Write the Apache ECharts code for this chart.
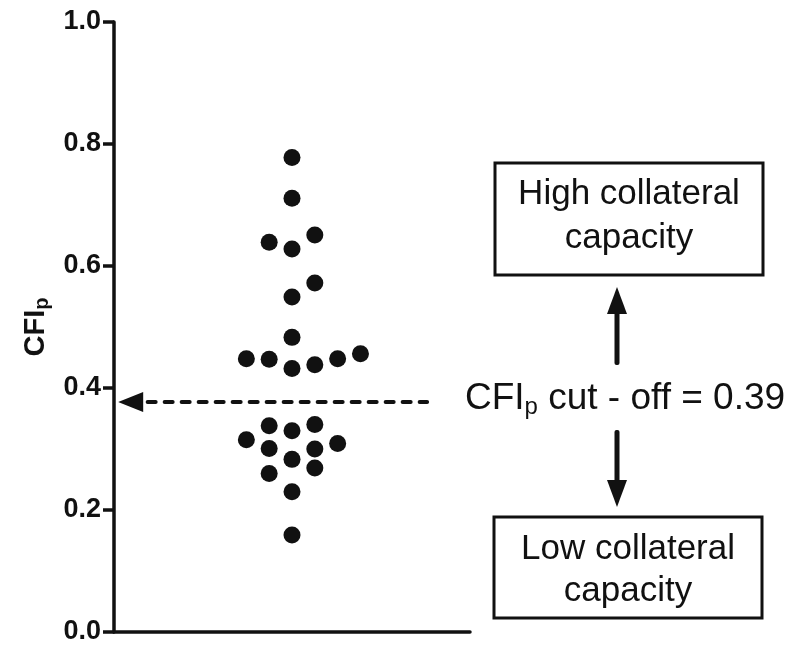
<!DOCTYPE html>
<html>
<head>
<meta charset="utf-8">
<script src="https://cdn.jsdelivr.net/npm/echarts@6/dist/echarts.min.js"></script>
<style>
html,body{margin:0;padding:0;background:#fff;}
#chart{width:790px;height:647px;}
</style>
</head>
<body>
<div id="chart"></div>
<script>
// ---- data ----
const cfiValues   = [0.778, 0.711, 0.639, 0.628, 0.651, 0.572, 0.549, 0.483,
                     0.448, 0.447, 0.432, 0.438, 0.448, 0.456,
                     0.338, 0.330, 0.340, 0.315, 0.301, 0.300, 0.309,
                     0.283, 0.260, 0.269, 0.230, 0.159];
const columnSlot  = [0, 0, -1, 0, 1, 1, 0, 0,
                     -2, -1, 0, 1, 2, 3,
                     -1, 0, 1, -2, -1, 1, 2,
                     0, -1, 1, 0, 0];
const yTickValues = [0, 0.2, 0.4, 0.6, 0.8, 1.0];
const cutoffLineValue = 0.377;
const cutoffLabel = 'CFI';
const cutoffSub = 'p';
const cutoffRest = ' cut - off = 0.39';
const highText = ['High collateral', 'capacity'];
const lowText = ['Low collateral', 'capacity'];

const points = cfiValues.map((v, i) => [columnSlot[i], v]);

const chart = echarts.init(document.getElementById('chart'), null, {renderer: 'canvas'});
const ink = '#111';
const FONT = '"Liberation Sans", Arial, sans-serif';

chart.setOption({
  backgroundColor: '#ffffff',
  animation: false,
  grid: {left: 114, top: 22, width: 356, height: 610, containLabel: false},
  xAxis: {
    type: 'value', min: -7.8, max: 7.8,
    axisLine: {show: true, onZero: false, lineStyle: {color: ink, width: 3.5}},
    axisTick: {show: false}, axisLabel: {show: false}, splitLine: {show: false}
  },
  yAxis: {
    type: 'value', min: yTickValues[0], max: yTickValues[yTickValues.length - 1], interval: 0.2,
    axisLine: {show: true, onZero: false, lineStyle: {color: ink, width: 3.5}},
    axisTick: {show: true, inside: false, length: 11, lineStyle: {color: ink, width: 3.5}},
    axisLabel: {
      color: ink, fontSize: 27, fontWeight: 'bold', fontFamily: FONT, margin: 13,
      formatter: v => v.toFixed(1)
    },
    splitLine: {show: false},
    name: '{a|CFI}{s|p}',
    nameLocation: 'middle', nameRotate: 90, nameGap: 62,
    nameTextStyle: {
      rich: {
        a: {fontSize: 29, fontWeight: 'bold', fontFamily: FONT, color: ink},
        s: {fontSize: 20, fontWeight: 'bold', fontFamily: FONT, color: ink, padding: [13, 0, 0, 0]}
      }
    }
  },
  series: [{
    type: 'scatter',
    data: points,
    symbol: 'circle', symbolSize: 17,
    itemStyle: {color: ink, opacity: 1},
    markLine: {
      silent: true,
      symbol: ['triangle', 'none'],
      symbolSize: [20, 25],
      label: {show: false},
      lineStyle: {color: ink, width: 4, type: [8, 9], cap: 'round', opacity: 1},
      data: [[{coord: [-7.07, cutoffLineValue]}, {coord: [5.92, cutoffLineValue]}]]
    }
  }],
  graphic: [
    // high box
    {type: 'rect', shape: {x: 495, y: 163, width: 268, height: 112},
     style: {fill: '#fff', stroke: ink, lineWidth: 3}},
    {type: 'text', style: {x: 629, y: 194, text: highText[0], font: '35px ' + FONT, fill: ink, align: 'center', verticalAlign: 'middle'}},
    {type: 'text', style: {x: 629, y: 238, text: highText[1], font: '35px ' + FONT, fill: ink, align: 'center', verticalAlign: 'middle'}},
    // low box
    {type: 'rect', shape: {x: 494, y: 517, width: 268, height: 101},
     style: {fill: '#fff', stroke: ink, lineWidth: 3}},
    {type: 'text', style: {x: 628, y: 549, text: lowText[0], font: '35px ' + FONT, fill: ink, align: 'center', verticalAlign: 'middle'}},
    {type: 'text', style: {x: 628, y: 591, text: lowText[1], font: '35px ' + FONT, fill: ink, align: 'center', verticalAlign: 'middle'}},
    // up arrow
    {type: 'rect', shape: {x: 614.5, y: 310, width: 5, height: 55, r: 2}, style: {fill: ink}},
    {type: 'polygon', shape: {points: [[617, 287], [607, 314], [627, 314]]}, style: {fill: ink}},
    // down arrow
    {type: 'rect', shape: {x: 614.5, y: 430, width: 5, height: 54, r: 2}, style: {fill: ink}},
    {type: 'polygon', shape: {points: [[617, 507], [607, 480], [627, 480]]}, style: {fill: ink}},
    // cut-off text
    {type: 'text', style: {
      x: 465, y: 399, align: 'left', verticalAlign: 'middle',
      text: '{a|' + cutoffLabel + '}{s|' + cutoffSub + '}{a|' + cutoffRest + '}',
      rich: {
        a: {fontSize: 37, fontFamily: FONT, fill: ink, color: ink},
        s: {fontSize: 24, fontFamily: FONT, fill: ink, color: ink, padding: [16, 0, 0, 0]}
      }
    }}
  ]
});
</script>
</body>
</html>
